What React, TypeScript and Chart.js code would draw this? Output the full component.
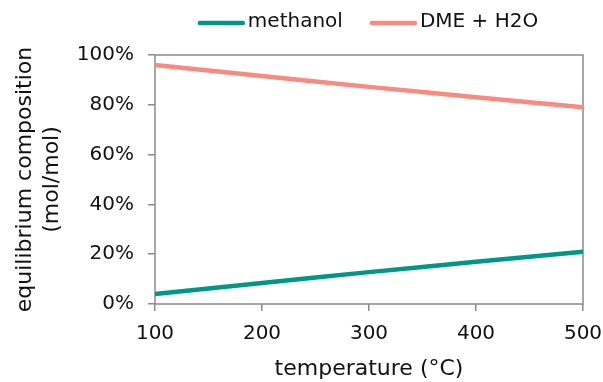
import React, { useEffect, useRef } from "react";
import { Chart, registerables } from "chart.js";

Chart.register(...registerables);

const temperatures = [100, 150, 200, 250, 300, 350, 400, 450, 500];
const methanol = [4.0, 6.2, 8.4, 10.6, 12.8, 14.9, 17.0, 19.0, 21.0];
const dmeH2O = [96.0, 93.8, 91.6, 89.4, 87.2, 85.1, 83.0, 81.0, 79.0];
const seriesNames = ["methanol", "DME + H2O"];
const seriesColors = ["#009688", "#f88a80"];
const xTicks = [100, 200, 300, 400, 500];
const yTicks = [0, 20, 40, 60, 80, 100];

const FONT = "'DejaVu Sans', Verdana, sans-serif";
const AXIS = "#8a8a8a";

const frameAndLegend = {
  id: "frameAndLegend",
  beforeDatasetsDraw(chart: any) {
    const { ctx, chartArea } = chart;
    ctx.save();
    ctx.strokeStyle = AXIS;
    ctx.lineWidth = 1.5;
    ctx.strokeRect(chartArea.left, chartArea.top, chartArea.right - chartArea.left, chartArea.bottom - chartArea.top);
    ctx.restore();
  },
  afterDraw(chart: any) {
    const { ctx, chartArea } = chart;
    ctx.save();
    ctx.font = `20px ${FONT}`;
    ctx.textBaseline = "middle";
    ctx.textAlign = "left";
    const lineW = 47;
    const gapText = 3;
    const gapItem = 27;
    const widths = seriesNames.map((n) => ctx.measureText(n).width);
    const total = widths.reduce((a, w) => a + lineW + gapText + w, 0) + gapItem * (seriesNames.length - 1);
    let x = (chartArea.left + chartArea.right) / 2 - total / 2 - 1;
    const y = 23;
    seriesNames.forEach((n, i) => {
      ctx.strokeStyle = seriesColors[i];
      ctx.lineWidth = 4.5;
      ctx.lineCap = "round";
      ctx.beginPath();
      ctx.moveTo(x + 2, y);
      ctx.lineTo(x + lineW - 2, y);
      ctx.stroke();
      ctx.fillStyle = "#111";
      ctx.fillText(n, x + lineW + gapText, y - 1);
      x += lineW + gapText + widths[i] + gapItem;
    });
    ctx.restore();
  },
};

export default function App() {
  const ref = useRef<HTMLCanvasElement>(null);
  useEffect(() => {
    document.body.style.margin = "0";
    const chart = new Chart(ref.current as HTMLCanvasElement, {
      type: "line",
      data: {
        datasets: [
          {
            label: seriesNames[0],
            data: temperatures.map((t, i) => ({ x: t, y: methanol[i] })),
            borderColor: seriesColors[0],
            backgroundColor: seriesColors[0],
            borderWidth: 4.5,
            pointRadius: 0,
            tension: 0,
          },
          {
            label: seriesNames[1],
            data: temperatures.map((t, i) => ({ x: t, y: dmeH2O[i] })),
            borderColor: seriesColors[1],
            backgroundColor: seriesColors[1],
            borderWidth: 4.5,
            pointRadius: 0,
            tension: 0,
          },
        ],
      },
      options: {
        animation: false,
        responsive: false,
        maintainAspectRatio: false,
        layout: { padding: { top: 55, left: 0, right: 0, bottom: 0 } },
        plugins: {
          legend: { display: false },
          tooltip: { enabled: false },
        },
        scales: {
          x: {
            type: "linear",
            min: 100,
            max: 500,
            afterBuildTicks: (s: any) => {
              s.ticks = xTicks.map((v) => ({ value: v }));
            },
            afterFit: (s: any) => {
              s.height = 78;
              s.paddingLeft = 0;
              s.paddingRight = 20;
            },
            border: { display: false },
            grid: { drawOnChartArea: false, drawTicks: true, tickLength: 7, color: AXIS, lineWidth: 1.5 },
            ticks: { color: "#111", font: { family: FONT, size: 20 }, padding: 11, maxRotation: 0 },
            title: {
              display: true,
              text: "temperature (°C)",
              color: "#111",
              font: { family: FONT, size: 22 },
              padding: { top: 12, bottom: 0 },
            },
          },
          y: {
            min: 0,
            max: 100,
            afterBuildTicks: (s: any) => {
              s.ticks = yTicks.map((v) => ({ value: v }));
            },
            afterFit: (s: any) => {
              s.width = 155;
              s.paddingTop = 0;
              s.paddingBottom = 0;
            },
            border: { display: false },
            grid: { drawOnChartArea: false, drawTicks: true, tickLength: 7, color: AXIS, lineWidth: 1.5 },
            ticks: {
              color: "#111",
              font: { family: FONT, size: 20 },
              padding: 14,
              callback: (v: any) => `${v}%`,
            },
            title: {
              display: true,
              text: ["equilibrium composition", "(mol/mol)"],
              color: "#111",
              font: { family: FONT, size: 22, lineHeight: 1.23 },
              padding: { top: 12, bottom: 12 },
            },
          },
        },
      },
      plugins: [frameAndLegend],
    } as any);
    return () => chart.destroy();
  }, []);
  return (
    <div style={{ width: 603, height: 382 }}>
      <canvas ref={ref} width={603} height={382} style={{ display: "block" }} />
    </div>
  );
}
